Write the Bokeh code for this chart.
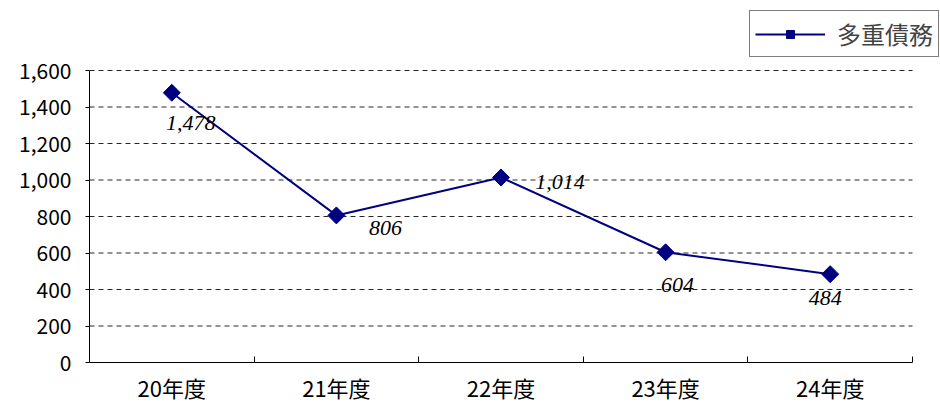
import math
from bokeh.plotting import figure
from bokeh.models import (Range1d, FixedTicker, NumeralTickFormatter, Legend, LegendItem,
                          ColumnDataSource, LabelSet)
from bokeh.embed import file_html
from bokeh.resources import INLINE

categories = ["20年度", "21年度", "22年度", "23年度", "24年度"]
values = [1478, 806, 1014, 604, 484]
value_labels = ["1,478", "806", "1,014", "604", "484"]
series_name = "多重債務"
y_ticks = [0, 200, 400, 600, 800, 1000, 1200, 1400, 1600]

# label offsets in screen px (style only)
label_dx = [19, 49, 59, 12, -5]
label_dy = [-30, -13, -5, -33, -24]

FONT = "Noto Sans CJK JP"
LABEL_FONT = "DejaVu Sans"
NAVY = "#000080"

# layout (pixels)
W, H = 940, 405
AX_LEFT, AX_RIGHT, AX_TOP, AX_BOTTOM = 89, 912, 70, 362

n = len(categories)
y_max = y_ticks[-1]
xs = [i + 0.5 for i in range(n)]

x_end = n * (W - AX_LEFT) / (AX_RIGHT - AX_LEFT)
y_end = y_max * AX_BOTTOM / (AX_BOTTOM - AX_TOP)

p = figure(width=W, height=H, output_backend="svg", toolbar_location=None,
           x_range=Range1d(0, x_end), y_range=Range1d(0, y_end),
           min_border_left=AX_LEFT, min_border_right=0, min_border_top=0,
           min_border_bottom=H - AX_BOTTOM)
p.outline_line_color = None
p.background_fill_color = "white"
p.border_fill_color = "white"

grid_y = y_ticks[1:]
p.segment(x0=[0] * len(grid_y), x1=[n] * len(grid_y), y0=grid_y, y1=grid_y,
          line_color="black", line_alpha=0.85, line_width=1, line_dash="5 4")

src = ColumnDataSource(dict(x=xs, y=values, lab=value_labels, dx=label_dx, dy=label_dy))

line = p.line("x", "y", source=src, line_color=NAVY, line_width=2)
mk = p.scatter("x", "y", source=src, marker="square", size=12, angle=math.pi / 4,
               fill_color=NAVY, line_color=NAVY)

labels = LabelSet(x="x", y="y", text="lab", source=src, x_offset="dx", y_offset="dy",
                  text_align="center", text_baseline="middle", text_font=LABEL_FONT,
                  text_font_size="22px", text_font_style="italic", text_color="black")
p.add_layout(labels)

p.xaxis.bounds = (0, n)
p.xaxis.ticker = FixedTicker(ticks=xs, minor_ticks=list(range(n + 1)))
p.xaxis.major_label_overrides = {x: c for x, c in zip(xs, categories)}
p.xaxis.major_tick_out = 0
p.xaxis.major_tick_in = 0
p.xaxis.major_tick_line_color = None
p.xaxis.minor_tick_in = 6
p.xaxis.minor_tick_out = 0
p.xaxis.minor_tick_line_color = "black"
p.xaxis.axis_line_color = "black"
p.xaxis.major_label_text_font = FONT
p.xaxis.major_label_text_font_size = "22px"
p.xaxis.major_label_text_color = "black"
p.xaxis.major_label_standoff = 8

p.yaxis.bounds = (0, y_max)
p.yaxis.ticker = FixedTicker(ticks=y_ticks)
p.yaxis.formatter = NumeralTickFormatter(format="0,0")
p.yaxis.major_tick_in = 0
p.yaxis.major_tick_out = 4
p.yaxis.minor_tick_line_color = None
p.yaxis.axis_line_color = "black"
p.yaxis.major_tick_line_color = "black"
p.yaxis.major_label_text_font = FONT
p.yaxis.major_label_text_font_size = "21px"
p.yaxis.major_label_text_color = "black"
p.yaxis.major_label_standoff = 14

p.xgrid.grid_line_color = None
p.ygrid.grid_line_color = None

legend = Legend(items=[LegendItem(label=series_name, renderers=[line, mk])],
                location=(660, 305), orientation="vertical",
                border_line_color="black", border_line_width=1,
                label_text_font=FONT, label_text_font_size="24px",
                glyph_width=70, glyph_height=20, padding=5, margin=0,
                label_standoff=12, background_fill_alpha=1)
p.add_layout(legend, "center")

open("out.html", "w").write(file_html(p, INLINE))
